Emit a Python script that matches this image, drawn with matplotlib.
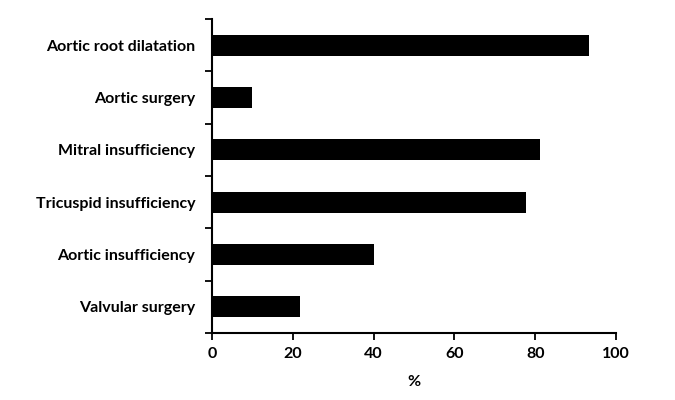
import matplotlib.pyplot as plt
import numpy as np

categories = ["Aortic root dilatation", "Aortic surgery", "Mitral insufficiency",
              "Tricuspid insufficiency", "Aortic insufficiency", "Valvular surgery"]
values = [93.3, 9.9, 81.3, 77.8, 40.0, 21.7]
xticks = [0, 20, 40, 60, 80, 100]

plt.rcParams['font.family'] = ['Lato', 'DejaVu Sans']

fig = plt.figure(figsize=(6.75, 4), dpi=100)
ax = fig.add_axes([0.314, 0.168, 0.5986, 0.784])

y = np.arange(len(categories))
ax.barh(y, values, height=0.4, color='black')

ax.set_ylim(len(categories) - 0.5, -0.5)
ax.set_xlim(0, 100)
ax.set_yticks(y)
ax.set_yticklabels(categories, fontsize=11.5, fontweight='bold')
ax.set_yticks(np.arange(len(categories) + 1) - 0.5, minor=True)
ax.tick_params(axis='y', which='major', length=0, pad=12)
ax.tick_params(axis='y', which='minor', length=5, width=1.3, direction='out')
ax.set_xticks(xticks)
ax.set_xticklabels([str(t) for t in xticks], fontsize=11.5, fontweight='bold')
ax.tick_params(axis='x', length=5, width=1.3, direction='out', pad=5)
ax.set_xlabel('%', fontsize=11.5, fontweight='bold', labelpad=10)

for s in ['top', 'right']:
    ax.spines[s].set_visible(False)
for s in ['left', 'bottom']:
    ax.spines[s].set_linewidth(1.5)

fig.savefig('out.png', dpi=100)
